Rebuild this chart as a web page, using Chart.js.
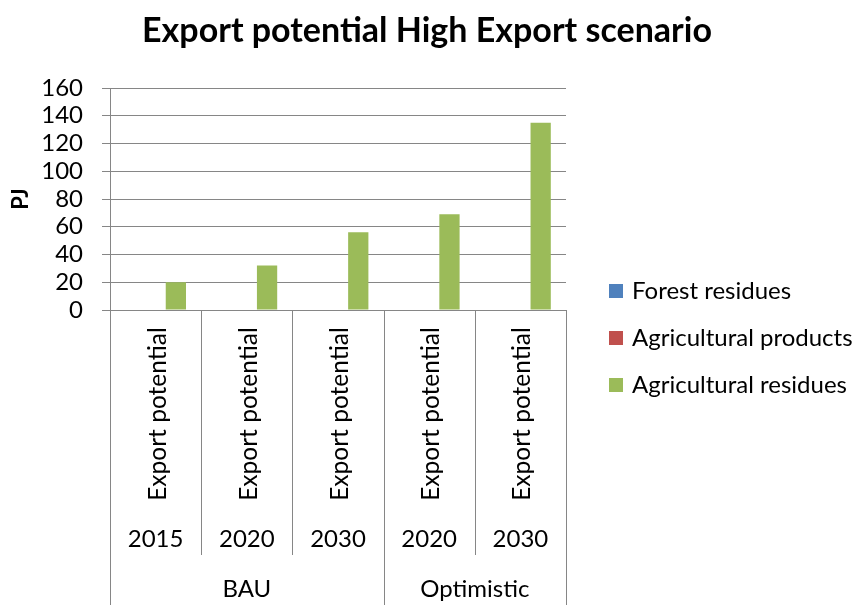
<!DOCTYPE html>
<html>
<head>
<meta charset="utf-8">
<script src="https://cdn.jsdelivr.net/npm/chart.js@4/dist/chart.umd.min.js"></script>
<style>
  html, body { margin: 0; padding: 0; background: #ffffff; }
  canvas { display: block; }
</style>
</head>
<body>
<canvas id="chart" width="861" height="605"></canvas>
<script>
// ---- data ----
const chartTitle = 'Export potential High Export scenario';
const yAxisTitle = 'PJ';
const measureLabel = 'Export potential';
const years = ['2015', '2020', '2030', '2020', '2030'];
const scenarios = ['BAU', 'Optimistic'];
const scenarioSpans = [3, 2];
const seriesNames = ['Forest residues', 'Agricultural products', 'Agricultural residues'];
const seriesColors = ['#4F81BD', '#C0504D', '#9BBB59'];
const forestResidues = [0, 0, 0, 0, 0];
const agriculturalProducts = [0, 0, 0, 0, 0];
const agriculturalResidues = [20, 32, 56, 69, 135];
const yMin = 0, yMax = 160, yStep = 20;

const FONT = 'Lato, "Open Sans", sans-serif';
const GRID = '#868686';

// Multi-level category axis, title and legend painted on top of the chart
const decorations = {
  id: 'decorations',
  afterDraw(chart) {
    const ctx = chart.ctx;
    const xs = chart.scales.x;
    const n = years.length;
    const catW = xs.width / n;
    const axisY = chart.chartArea.bottom;
    ctx.save();

    // title
    ctx.fillStyle = '#000';
    ctx.font = 'bold 34px ' + FONT;
    ctx.textAlign = 'center';
    ctx.textBaseline = 'alphabetic';
    ctx.fillText(chartTitle, 427, 42);

    // separators between categories and between scenario groups
    ctx.strokeStyle = GRID;
    ctx.lineWidth = 1;
    const groupEdges = new Set([0, n]);
    let acc = 0;
    scenarioSpans.forEach(s => { acc += s; groupEdges.add(acc); });
    for (let i = 0; i <= n; i++) {
      const x = Math.round(xs.left + i * catW) + 0.5;
      const yEnd = groupEdges.has(i) ? chart.height : 555;
      ctx.beginPath();
      ctx.moveTo(x, axisY);
      ctx.lineTo(x, yEnd);
      ctx.stroke();
    }

    // level 1: rotated measure label, level 2: years
    ctx.fillStyle = '#000';
    for (let i = 0; i < n; i++) {
      const cx = xs.getPixelForValue(i);
      ctx.save();
      ctx.translate(cx + 10, 414);
      ctx.rotate(-Math.PI / 2);
      ctx.font = '24.5px ' + FONT;
      ctx.textAlign = 'center';
      ctx.textBaseline = 'alphabetic';
      ctx.fillText(measureLabel, 0, 0);
      ctx.restore();

      ctx.font = '24px ' + FONT;
      ctx.textAlign = 'center';
      ctx.textBaseline = 'alphabetic';
      ctx.fillText(years[i], cx, 547);
    }

    // level 3: scenarios
    let start = 0;
    scenarios.forEach((name, g) => {
      const x0 = xs.left + start * catW;
      const x1 = xs.left + (start + scenarioSpans[g]) * catW;
      ctx.fillText(name, (x0 + x1) / 2, 597);
      start += scenarioSpans[g];
    });

    // legend
    ctx.font = '24px ' + FONT;
    ctx.textAlign = 'left';
    chart.data.datasets.forEach((ds, i) => {
      const cy = 291 + i * 47;
      ctx.fillStyle = ds.backgroundColor;
      ctx.fillRect(609, cy - 7, 14, 14);
      ctx.fillStyle = '#000';
      ctx.fillText(ds.label, 632, cy + 8);
    });

    ctx.restore();
  }
};

new Chart(document.getElementById('chart'), {
  type: 'bar',
  data: {
    labels: years,
    datasets: [
      { label: seriesNames[0], data: forestResidues, backgroundColor: seriesColors[0] },
      { label: seriesNames[1], data: agriculturalProducts, backgroundColor: seriesColors[1] },
      { label: seriesNames[2], data: agriculturalResidues, backgroundColor: seriesColors[2] }
    ]
  },
  options: {
    responsive: false,
    animation: false,
    layout: { padding: { top: 88, right: 295, bottom: 0, left: 0 } },
    datasets: {
      bar: { categoryPercentage: 3 / 4.5, barPercentage: 1, borderWidth: 0 }
    },
    plugins: {
      legend: { display: false },
      title: { display: false },
      tooltip: { enabled: false }
    },
    scales: {
      x: {
        ticks: { display: false },
        grid: { display: false },
        border: { display: true, color: GRID, width: 1 },
        afterFit(scale) { scale.height = 295; }
      },
      y: {
        min: yMin,
        max: yMax,
        ticks: {
          stepSize: yStep,
          autoSkip: false,
          color: '#000',
          font: { family: FONT, size: 24, lineHeight: 1 },
          padding: 19
        },
        grid: { color: GRID, lineWidth: 1, tickLength: 8 },
        border: { display: true, color: GRID, width: 1 },
        title: {
          display: true,
          text: yAxisTitle,
          color: '#000',
          font: { family: FONT, size: 22, weight: 'bold' },
          padding: { top: 8, bottom: 4 }
        },
        afterFit(scale) { scale.width = 110; }
      }
    }
  },
  plugins: [decorations]
});
</script>
</body>
</html>
